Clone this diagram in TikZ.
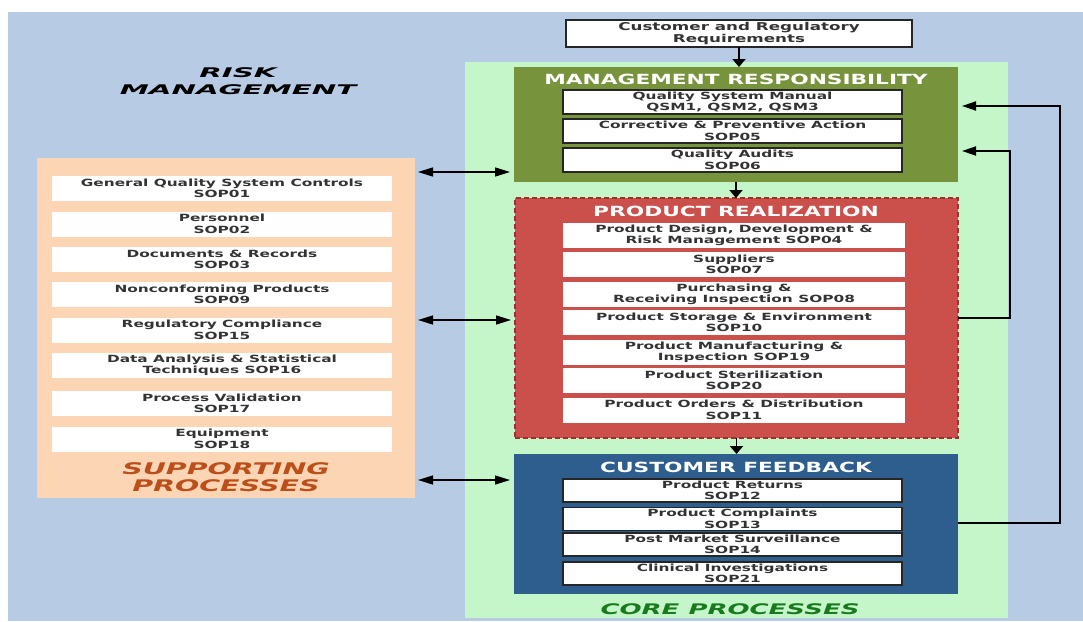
\documentclass[tikz,border=0pt]{standalone}
\usepackage{fontspec}
\setmainfont{DejaVu Sans}[FakeStretch=1.55,
  BoldFont={DejaVu Sans Bold}, ItalicFont={DejaVu Sans Oblique},
  BoldItalicFont={DejaVu Sans Bold Oblique}]
\newfontfamily\labelfont{DejaVu Sans}[FakeStretch=1.78,
  BoldFont={DejaVu Sans Bold}, BoldItalicFont={DejaVu Sans Bold Oblique}]
\newfontfamily\riskfont{DejaVu Sans}[FakeStretch=2.2,
  BoldFont={DejaVu Sans Bold}, BoldItalicFont={DejaVu Sans Bold Oblique}]
\usepackage{xcolor}
\usetikzlibrary{arrows.meta,positioning}
\definecolor{riskblue}{RGB}{183,203,228}
\definecolor{coregreen}{RGB}{196,246,202}
\definecolor{supportpeach}{RGB}{252,213,181}
\definecolor{mgmtolive}{RGB}{119,147,60}
\definecolor{realred}{RGB}{203,80,76}
\definecolor{realedge}{RGB}{160,48,46}
\definecolor{feedblue}{RGB}{46,94,142}
\definecolor{supporttext}{RGB}{188,78,26}
\definecolor{coretext}{RGB}{24,122,28}

\begin{document}
\begin{tikzpicture}[x=1pt,y=-1pt,
    panel/.style={inner sep=0pt, outer sep=0pt},
    itembox/.style={fill=white, inner sep=0pt, outer sep=0pt, align=center,
      text=black!80, font=\fontsize{9.9}{11.4}\selectfont\bfseries},
    framedbox/.style={itembox, draw=black!85, line width=1.3pt},
    paneltitle/.style={anchor=base, text=white, font=\fontsize{14}{16}\selectfont\bfseries},
    biglabel/.style={anchor=base, font=\labelfont\bfseries\itshape\fontsize{16}{18}\selectfont},
    flow/.style={line width=1.8pt, -{Triangle[length=8pt,width=13pt]}},
    link/.style={line width=1.4pt, {Triangle[length=15pt,width=9pt]}-{Triangle[length=15pt,width=9pt]},
      shorten <=3pt, shorten >=4pt},
    loopback/.style={line width=2pt, -{Triangle[length=14pt,width=9pt]}, shorten >=4pt}
  ]
  \useasboundingbox (0,0) rectangle (1083,621);

  % Risk management background
  \fill[riskblue] (8,12) rectangle (1083,621);
  \node[biglabel, font=\riskfont\bfseries\itshape\fontsize{13.3}{16}\selectfont] (risk) at (238,77) {RISK};
  \node[biglabel, font=\riskfont\bfseries\itshape\fontsize{13.3}{16}\selectfont] (riskmgmt) at (238,94) {MANAGEMENT};

  % Core processes column
  \node[panel, fill=coregreen, minimum width=543, minimum height=556] (core) at (736.5,340) {};
  \node[biglabel, text=coretext, font=\labelfont\bfseries\itshape\fontsize{14.6}{17}\selectfont] (coretitle) at (730,614) {CORE PROCESSES};

  % Customer and regulatory requirements
  \node[framedbox, font=\fontsize{10.8}{11.2}\selectfont\bfseries, minimum width=346, minimum height=27] (custreq) at (739,33.5)
    {Customer and Regulatory\\Requirements};

  % Management responsibility
  \node[panel, fill=mgmtolive, minimum width=444, minimum height=115] (mgmt) at (736,124.5) {};
  \node[paneltitle] (mgmttitle) at (736,84) {MANAGEMENT RESPONSIBILITY};
  \node[framedbox, minimum width=339, minimum height=24] (qsm) at (732.5,102) {Quality System Manual\\QSM1, QSM2, QSM3};
  \node[framedbox, minimum width=339, minimum height=24] (capa) at (732.5,131) {Corrective \& Preventive Action\\SOP05};
  \node[framedbox, minimum width=339, minimum height=24] (audit) at (732.5,160) {Quality Audits\\SOP06};

  % Product realization
  \node[panel, fill=realred, draw=realedge, line width=1.2pt, dash pattern=on 5pt off 3pt,
    minimum width=443, minimum height=240] (realize) at (736.5,318) {};
  \node[paneltitle] (realtitle) at (736,216) {PRODUCT REALIZATION};
  \node[itembox, minimum width=342, minimum height=25] (design) at (734,235.5) {Product Design, Development \&\\Risk Management SOP04};
  \node[itembox, minimum width=342, minimum height=25] (suppl) at (734,264.5) {Suppliers\\SOP07};
  \node[itembox, minimum width=342, minimum height=25] (purch) at (734,294.5) {Purchasing \&\\Receiving Inspection SOP08};
  \node[itembox, minimum width=342, minimum height=25] (storage) at (734,322.5) {Product Storage \& Environment\\SOP10};
  \node[itembox, minimum width=342, minimum height=25] (manuf) at (734,352) {Product Manufacturing \&\\Inspection SOP19};
  \node[itembox, minimum width=342, minimum height=25] (steril) at (734,380.5) {Product Sterilization\\SOP20};
  \node[itembox, minimum width=342, minimum height=25] (orders) at (734,410) {Product Orders \& Distribution\\SOP11};

  % Customer feedback
  \node[panel, fill=feedblue, minimum width=444, minimum height=140] (feedback) at (736,524) {};
  \node[paneltitle] (feedtitle) at (736,472) {CUSTOMER FEEDBACK};
  \node[framedbox, minimum width=339, minimum height=23] (returns) at (732.5,490.5) {Product Returns\\SOP12};
  \node[framedbox, minimum width=339, minimum height=23] (complaint) at (732.5,519) {Product Complaints\\SOP13};
  \node[framedbox, minimum width=339, minimum height=23] (postmkt) at (732.5,544.5) {Post Market Surveillance\\SOP14};
  \node[framedbox, minimum width=339, minimum height=23] (clinical) at (732.5,573.5) {Clinical Investigations\\SOP21};

  % Supporting processes
  \node[panel, fill=supportpeach, minimum width=378, minimum height=340] (support) at (226,328) {};
  \node[itembox, minimum width=340, minimum height=25] (gqs) at (222,188.5) {General Quality System Controls\\SOP01};
  \node[itembox, minimum width=340, minimum height=25] (staff) at (222,224) {Personnel\\SOP02};
  \node[itembox, minimum width=340, minimum height=25] (docs) at (222,259.5) {Documents \& Records\\SOP03};
  \node[itembox, minimum width=340, minimum height=25] (noncon) at (222,294.5) {Nonconforming Products\\SOP09};
  \node[itembox, minimum width=340, minimum height=25] (regul) at (222,330) {Regulatory Compliance\\SOP15};
  \node[itembox, minimum width=340, minimum height=25] (stats) at (222,365.5) {Data Analysis \& Statistical\\Techniques SOP16};
  \node[itembox, minimum width=340, minimum height=25] (valid) at (222,403.5) {Process Validation\\SOP17};
  \node[itembox, minimum width=340, minimum height=25] (equip) at (222,439) {Equipment\\SOP18};
  \node[biglabel, text=supporttext] (supptitle) at (226,474) {SUPPORTING};
  \node[biglabel, text=supporttext] (supptitleb) at (226,491) {PROCESSES};

  % Flow down the core column
  \draw[flow] (custreq.south) -- (custreq.south |- mgmt.north);
  \draw[flow] (mgmt.south) -- (mgmt.south |- realize.north);
  \draw[flow] (realize.south) -- (realize.south |- feedback.north);

  % Links to supporting processes
  \coordinate (linkA) at (466,172);
  \coordinate (linkB) at (466,320);
  \coordinate (linkC) at (466,480);
  \draw[link] (support.east |- linkA) -- (mgmt.west |- linkA);
  \draw[link] (support.east |- linkB) -- (realize.west |- linkB);
  \draw[link] (support.east |- linkC) -- (feedback.west |- linkC);

  % Feedback loops back to management
  \coordinate (inner) at (1010,151);
  \coordinate (outer) at (1060,106);
  \coordinate (innerlow) at (1010,318);
  \coordinate (outerlow) at (1060,523);
  \draw[loopback] (realize.east |- innerlow) -| (inner) -- (mgmt.east |- inner);
  \draw[loopback] (feedback.east |- outerlow) -| (outer) -- (mgmt.east |- outer);
\end{tikzpicture}
\end{document}
